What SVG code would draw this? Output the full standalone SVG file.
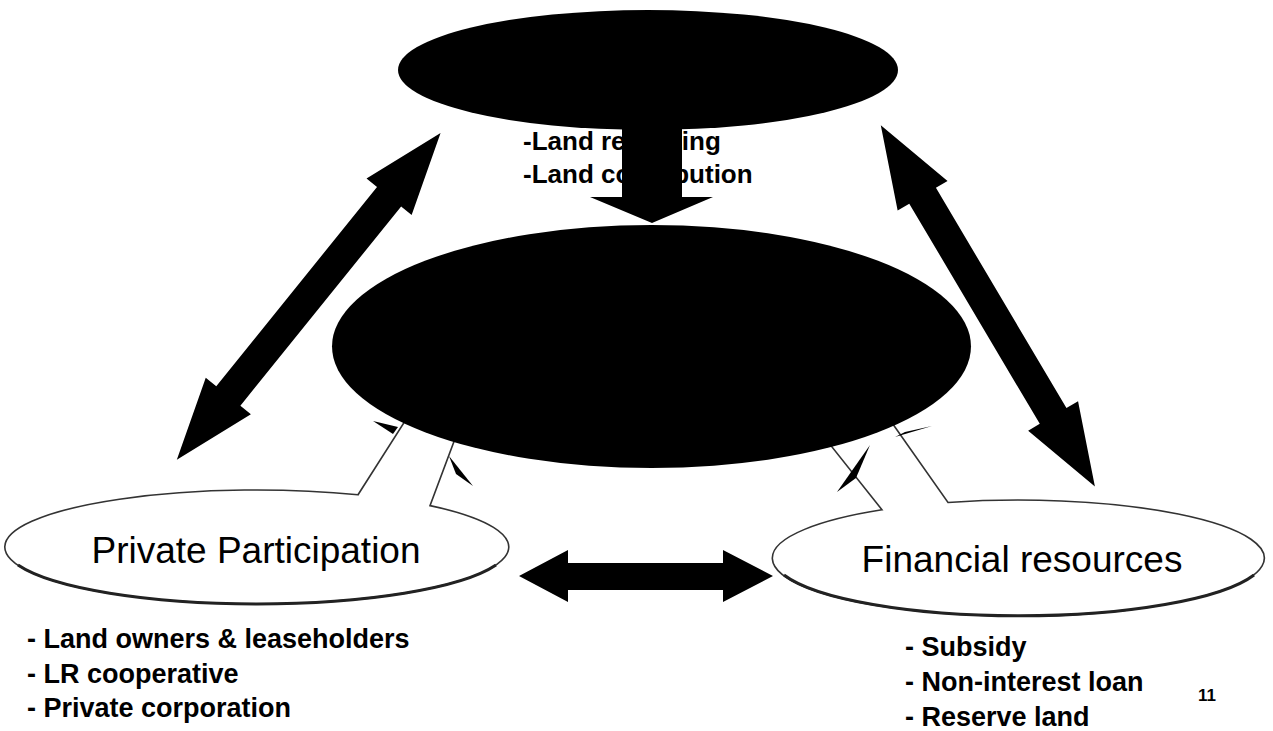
<svg xmlns="http://www.w3.org/2000/svg" xmlns:xlink="http://www.w3.org/1999/xlink" width="1273" height="731" viewBox="0 0 1273 731">
  <style>
    .blk { fill: #000; }
    .callout { fill: #fff; stroke: #333; stroke-width: 1.6; }
    .shadow { fill: none; stroke: #222; stroke-width: 3; }
    .title { font-family: "Liberation Sans", Arial, sans-serif; font-size: 37px; fill: #000; }
    .item { font-family: "Liberation Sans", Arial, sans-serif; font-size: 27px; font-weight: bold; fill: #000; }
    .sub { font-family: "Liberation Sans", Arial, sans-serif; font-size: 26px; font-weight: bold; fill: #000; }
    .pg { font-family: "Liberation Sans", Arial, sans-serif; font-size: 17px; font-weight: bold; fill: #000; }
  </style>
  <defs>
    <polygon id="dbl" points="-210,0 -128,-29 -128,-15.5 128,-15.5 128,-29 210,0 128,29 128,15.5 -128,15.5 -128,29"/>
  </defs>
  <rect width="1273" height="731" fill="#fff"/>

  <g id="private-participation">
    <path class="callout" d="M 430,505.6 A 252 57 0 1 1 358,494.8 L 405,421 L 462,420 Z"/>
    <path class="shadow" d="M 18,565 A 252 57 0 0 0 496,565"/>
    <polygon class="blk" points="373,421 398,427 393,434"/>
    <polygon class="blk" points="449,456 473,486 456,474"/>
    <text class="title" x="256" y="563" text-anchor="middle">Private Participation</text>
    <text class="item" x="27" y="648">- Land owners &amp; leaseholders</text>
    <text class="item" x="27" y="683">- LR cooperative</text>
    <text class="item" x="27" y="717">- Private corporation</text>
  </g>

  <g id="financial-resources">
    <path class="callout" d="M 948,502.5 A 246 58 0 1 1 882,509.8 L 828,442 L 890,420 Z"/>
    <path class="shadow" d="M 784,575 A 246 58 0 0 0 1254,575"/>
    <polygon class="blk" points="895,437 932,426 905,432"/>
    <polygon class="blk" points="837,492 870,445 856,478"/>
    <text class="title" x="1022" y="572" text-anchor="middle">Financial resources</text>
    <text class="item" x="905" y="656">- Subsidy</text>
    <text class="item" x="905" y="691">- Non-interest loan</text>
    <text class="item" x="905" y="726">- Reserve land</text>
  </g>

  <g id="top-node">
    <ellipse class="blk" cx="648" cy="70" rx="250" ry="60"/>
    <text class="sub" x="523" y="150">-Land replotting</text>
    <text class="sub" x="523" y="183">-Land contribution</text>
  </g>

  <g id="center-node">
    <ellipse class="blk" cx="651.5" cy="346.5" rx="319.5" ry="121.5"/>
  </g>

  <g id="connectors">
    <polygon class="blk" points="622,110 682,110 682,197 713,197 652,223 590,197 622,197"/>
    <use xlink:href="#dbl" href="#dbl" class="blk" transform="translate(308.7,296.35) rotate(-51.1)"/>
    <use xlink:href="#dbl" href="#dbl" class="blk" transform="translate(987.85,305.85) rotate(59.35)"/>
    <polygon class="blk" points="519,576 568,550 568,563 723,563 723,550 773,576 723,602 723,590 568,590 568,602"/>
  </g>

  <text class="pg" x="1198" y="701">11</text>
</svg>
